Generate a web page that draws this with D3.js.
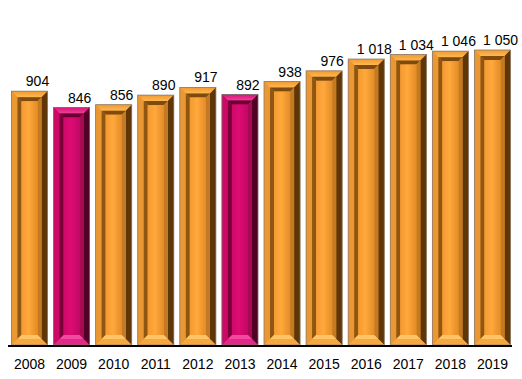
<!DOCTYPE html>
<html><head><meta charset="utf-8">
<script src="https://cdn.jsdelivr.net/npm/d3@7/dist/d3.min.js"></script>
<style>body{margin:0;background:#fff}svg{display:block}text{font-family:"Liberation Sans",Arial,sans-serif;}</style>
</head><body>
<svg id="c" width="522" height="379"></svg>
<script>
const years = ["2008","2009","2010","2011","2012","2013","2014","2015","2016","2017","2018","2019"];
const values = [904, 846, 856, 890, 917, 892, 938, 976, 1018, 1034, 1046, 1050];
const highlighted = ["2009","2013"];

const palettes = {
  orange: {top:["#ffb852","#f09a30"], left:"#eb9832", right:"#5e3607", bottom:"#f5a840",
           itop:"#7e4a0e", ileft:"#8e5612", iright:"#c47a22", ibottom:"#ffc466",
           face:["#f39a30","#ffa83c","#e48c26"], stroke:"#8a7a6a"},
  magenta: {top:["#f0409a","#d81478"], left:"#cc0a66", right:"#520026", bottom:"#e22888",
           itop:"#6a0032", ileft:"#7a003a", iright:"#a80a52", ibottom:"#f24aa0",
           face:["#cf086a","#dc0c74","#c20864"], stroke:"#7a6a70"}
};

const svg = d3.select("#c");
const defs = svg.append("defs");
Object.entries(palettes).forEach(([k,p])=>{
  const g = defs.append("linearGradient").attr("id","top-"+k).attr("x1",0).attr("y1",0).attr("x2",0).attr("y2",1);
  g.append("stop").attr("offset","0%").attr("stop-color",p.top[1]);
  g.append("stop").attr("offset","100%").attr("stop-color",p.top[0]);
  const f = defs.append("linearGradient").attr("id","face-"+k).attr("x1",0).attr("y1",0).attr("x2",1).attr("y2",0);
  f.append("stop").attr("offset","0%").attr("stop-color",p.face[0]);
  f.append("stop").attr("offset","45%").attr("stop-color",p.face[1]);
  f.append("stop").attr("offset","100%").attr("stop-color",p.face[2]);
});

const x = d3.scaleBand().domain(years).range([8.5, 513.5]).paddingInner(0.1425).paddingOuter(0.07);
const y = d3.scaleLinear().domain([0, 1050]).range([346, 50]);
const fmt = d3.formatLocale({decimal:",", thousands:"\u00a0", grouping:[3], currency:["",""]}).format(",d");

const data = years.map((yr,i)=>({year:yr, value:values[i], pal: highlighted.includes(yr) ? "magenta" : "orange"}));
const o = 6, inn = 4;
const pts = a => a.map(p=>p.join(",")).join(" ");

const bars = svg.append("g").selectAll("g").data(data).join("g");
bars.each(function(d){
  const g = d3.select(this);
  const p = palettes[d.pal];
  const x0 = x(d.year), x1 = x0 + x.bandwidth(), yt = y(d.value), yb = y(0) - 1;
  const a0 = x0+o, a1 = x1-o, at = yt+o, ab = yb-o;
  g.append("rect").attr("x",x0).attr("y",yt).attr("width",x1-x0).attr("height",yb-yt).attr("fill",p.left);
  g.append("polygon").attr("points",pts([[x0,yt],[x1,yt],[a1,at],[a0,at]])).attr("fill","url(#top-"+d.pal+")");
  g.append("polygon").attr("points",pts([[x0,yt],[a0,at],[a0,ab],[x0,yb]])).attr("fill",p.left);
  g.append("polygon").attr("points",pts([[x1,yt],[x1,yb],[a1,ab],[a1,at]])).attr("fill",p.right);
  g.append("polygon").attr("points",pts([[x0,yb],[a0,ab],[a1,ab],[x1,yb]])).attr("fill",p.bottom);
  g.append("polygon").attr("points",pts([[a0,at],[a1,at],[a1-inn,at+inn],[a0+inn,at+inn]])).attr("fill",p.itop);
  g.append("polygon").attr("points",pts([[a0,at],[a0+inn,at+inn],[a0+inn,ab-inn],[a0,ab]])).attr("fill",p.ileft);
  g.append("polygon").attr("points",pts([[a1,at],[a1,ab],[a1-inn,ab-inn],[a1-inn,at+inn]])).attr("fill",p.iright);
  g.append("polygon").attr("points",pts([[a0,ab],[a0+inn,ab-inn],[a1-inn,ab-inn],[a1,ab]])).attr("fill",p.ibottom);
  g.append("rect").attr("x",a0+inn).attr("y",at+inn).attr("width",a1-a0-2*inn).attr("height",Math.max(0,ab-at-2*inn)).attr("fill","url(#face-"+d.pal+")");
  g.append("rect").attr("x",x0).attr("y",yt).attr("width",x1-x0).attr("height",yb-yt).attr("fill","none").attr("stroke",p.stroke).attr("stroke-width",0.8);
});

// value labels
svg.append("g").selectAll("text").data(data).join("text")
  .attr("x", d=> x(d.year) + x.bandwidth()/2 + 8)
  .attr("y", d=> y(d.value) - 5)
  .attr("text-anchor","middle").attr("font-size",14).attr("fill","#000")
  .text(d=> fmt(d.value));

// baseline axis
const axis = svg.append("g").attr("transform","translate(0,346)")
  .call(d3.axisBottom(x).tickSize(0).tickPadding(13));
axis.select(".domain").attr("d","M8,0H512").attr("stroke","#000").attr("stroke-width",2);
axis.selectAll("text").attr("font-size",14).attr("fill","#000").attr("font-family","'Liberation Sans',Arial,sans-serif");
</script>
</body></html>
